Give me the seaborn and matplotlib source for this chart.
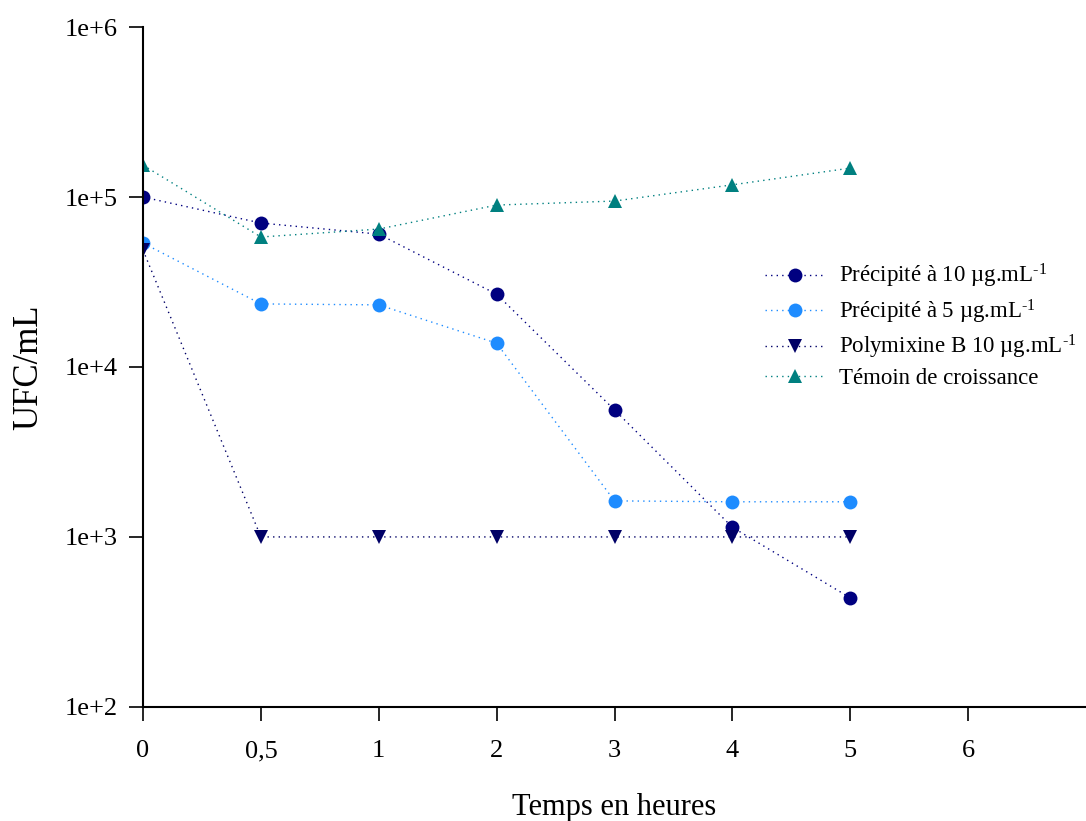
import pandas as pd
import seaborn as sns
from matplotlib import pyplot as plt
from matplotlib.ticker import FixedLocator, NullLocator

# time points (categorical, evenly spaced on the axis)
temps = ["0", "0,5", "1", "2", "3", "4", "5"]
tick_labels = ["0", "0,5", "1", "2", "3", "4", "5", "6"]

precip_10 = [100000, 70300, 60500, 26800, 5590, 1140, 438]
precip_5 = [53600, 23500, 23200, 13800, 1630, 1610, 1610]
polymixine = [48700, 1000, 1000, 1000, 1000, 1000, 1000]
temoin = [154000, 58200, 64800, 89700, 94700, 118000, 148000]

series = [
    ("Précipité à 10 µg.mL$^{‐1}$", precip_10, "#000080", "o"),
    ("Précipité à 5 µg.mL$^{‐1}$", precip_5, "#1E8CFF", "o"),
    ("Polymixine B 10 µg.mL$^{‐1}$", polymixine, "#000066", "v"),
    ("Témoin de croissance", temoin, "#008080", "^"),
]


def main():
    sns.set_style("ticks")
    plt.rcParams["font.family"] = ["Liberation Serif", "DejaVu Serif"]
    plt.rcParams["mathtext.fontset"] = "custom"
    plt.rcParams["mathtext.rm"] = "Liberation Serif"
    plt.rcParams["mathtext.it"] = "Liberation Serif"
    plt.rcParams["axes.unicode_minus"] = False
    for key in ["text.color", "axes.labelcolor", "xtick.color", "ytick.color"]:
        plt.rcParams[key] = "black"

    fig = plt.figure(figsize=(10.86, 8.21), dpi=100)
    ax = fig.add_axes([0.1317, 0.139, 0.8683, 0.828])

    for label, values, color, marker in series:
        df = pd.DataFrame({"pos": range(len(temps)), "ufc": values})
        sns.lineplot(
            data=df,
            x="pos",
            y="ufc",
            ax=ax,
            color=color,
            marker=marker,
            markersize=10,
            markeredgewidth=0,
            linewidth=1,
            linestyle=(0, (1, 3)),
            label=label,
        )

    ax.set_yscale("log")
    ax.set_ylim(100, 1e6)
    ax.yaxis.set_major_locator(FixedLocator([1e2, 1e3, 1e4, 1e5, 1e6]))
    ax.yaxis.set_minor_locator(NullLocator())
    ax.set_yticklabels(["1e+2", "1e+3", "1e+4", "1e+5", "1e+6"])

    ax.set_xlim(0, 8)
    ax.set_xticks(range(len(tick_labels)))
    ax.set_xticklabels(tick_labels)

    ax.tick_params(axis="both", labelsize=19, length=10, width=1.2, color="black",
                   direction="out")
    ax.tick_params(axis="x", pad=14)
    ax.tick_params(axis="y", pad=8)
    for side in ["top", "right"]:
        ax.spines[side].set_visible(False)
    for side in ["left", "bottom"]:
        ax.spines[side].set_linewidth(1.5)
        ax.spines[side].set_color("black")

    ax.set_xlabel("Temps en heures", fontsize=22, labelpad=22)
    ax.set_ylabel("UFC/mL", fontsize=25, labelpad=14)

    ax.legend(loc="upper left", bbox_to_anchor=(0.638, 0.685), frameon=False,
              fontsize=16.5, handlelength=2.6, handletextpad=0.6, labelspacing=0.32)

    plt.savefig("out.png", dpi=100)


if __name__ == "__main__":
    main()
